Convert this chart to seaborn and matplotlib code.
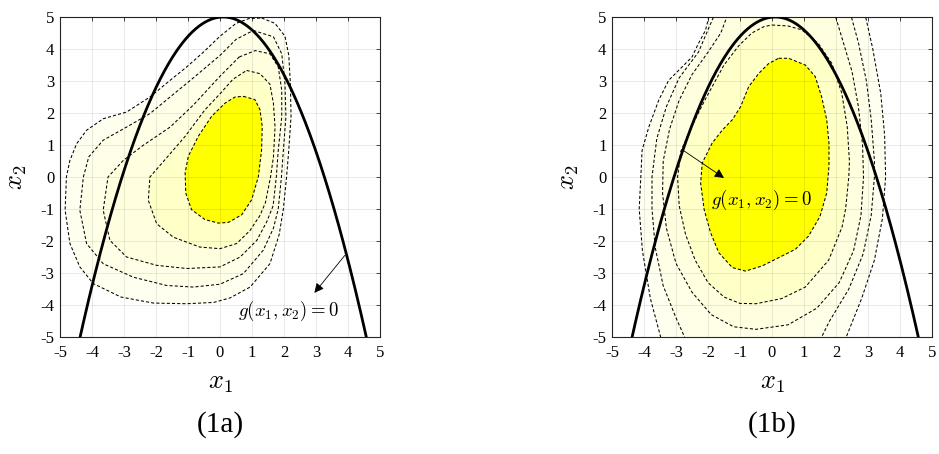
import numpy as np
import matplotlib
matplotlib.use("Agg")
import matplotlib.pyplot as plt
import seaborn as sns

# ---- data -----------------------------------------------------------------
# limit state g(x1, x2) = 0  ->  x2 = G_PEAK_Y - G_CURV * (x1 - G_PEAK_X)^2
G_PEAK_X = 0.1
G_PEAK_Y = 5.0
G_CURV = 0.5

TICKS = [-5, -4, -3, -2, -1, 0, 1, 2, 3, 4, 5]
TICK_LABELS = ["-5", "-4", "-3", "-2", "-1", "0", "1", "2", "3", "4", "5"]

# density contour outlines, panel (1a), outermost -> innermost (x1, x2)
A_L1 = [(1.3, 4.97), (1.72, 4.8), (2.03, 4.4), (2.15, 3.8), (2.2, 2.9), (2.22, 1.9),
        (2.15, 0.85), (2.08, 0.0), (1.98, -1.0), (1.85, -1.8), (1.56, -2.71), (0.94, -3.44),
        (0.31, -3.78), (-0.2, -3.92), (-1.04, -3.96), (-2.08, -3.94), (-3.1, -3.75),
        (-3.96, -3.33), (-4.38, -2.81), (-4.69, -2.08), (-4.84, -1.04), (-4.8, 0.0),
        (-4.69, 0.52), (-4.48, 1.04), (-4.17, 1.46), (-3.65, 1.82), (-2.92, 2.03),
        (-2.19, 2.5), (-1.56, 3.02), (-1.04, 3.44), (-0.52, 3.9), (0.0, 4.4), (0.5, 4.8),
        (0.9, 4.95)]
A_L2 = [(1.04, 4.58), (1.67, 4.38), (1.93, 3.85), (2.03, 2.92), (2.06, 1.88), (1.98, 0.83),
        (1.92, 0.0), (1.82, -1.0), (1.67, -1.6), (1.35, -2.29), (0.73, -3.02), (0.0, -3.35),
        (-0.83, -3.44), (-1.67, -3.39), (-2.71, -3.13), (-3.65, -2.71), (-4.17, -2.08),
        (-4.38, -1.04), (-4.27, 0.0), (-4.1, 0.63), (-3.65, 1.15), (-2.92, 1.56),
        (-2.19, 1.98), (-1.56, 2.5), (-0.83, 3.1), (0.0, 3.8), (0.5, 4.3)]
A_L3 = [(0.6, 3.75), (1.1, 3.95), (1.56, 3.85), (1.82, 3.44), (1.93, 2.71), (1.93, 1.88),
        (1.82, 0.83), (1.76, 0.0), (1.66, -0.9), (1.46, -1.4), (1.15, -1.98), (0.63, -2.5),
        (0.0, -2.81), (-1.04, -2.86), (-1.98, -2.76), (-2.92, -2.5), (-3.44, -1.98),
        (-3.65, -1.04), (-3.5, 0.0), (-3.02, 0.52), (-2.4, 0.99), (-1.56, 1.56),
        (-0.83, 2.25), (0.0, 3.15)]
A_L4 = [(0.83, 3.33), (1.25, 3.23), (1.56, 2.9), (1.67, 2.3), (1.72, 1.56), (1.67, 0.63),
        (1.58, 0.0), (1.42, -0.8), (1.25, -1.2), (0.94, -1.67), (0.52, -2.08), (0.0, -2.24),
        (-0.63, -2.19), (-1.46, -1.88), (-1.98, -1.46), (-2.24, -0.73), (-2.19, 0.0),
        (-1.72, 0.54), (-1.09, 1.27), (-0.47, 2.1), (0.0, 2.6), (0.4, 3.05)]
A_L5 = [(0.73, 2.52), (1.09, 2.42), (1.25, 2.1), (1.32, 1.58), (1.3, 0.85), (1.2, 0.02),
        (0.99, -0.71), (0.68, -1.18), (0.26, -1.42), (-0.05, -1.44), (-0.47, -1.33),
        (-0.89, -1.02), (-1.07, -0.5), (-1.09, 0.13), (-0.99, 0.65), (-0.68, 1.27),
        (-0.26, 1.9), (0.16, 2.31), (0.47, 2.5)]

# density contour outlines, panel (1b)
B_L1 = [(2.86, 5.3), (3.15, 4.0), (3.4, 2.6), (3.52, 1.3), (3.55, 0.0), (3.45, -1.3),
        (3.2, -2.6), (2.8, -3.8), (2.2, -5.3), (-3.4, -5.3), (-3.8, -3.8), (-4.05, -2.3),
        (-4.15, -1.0), (-4.1, 0.0), (-4.06, 0.83), (-3.85, 1.56), (-3.54, 2.4),
        (-3.23, 3.02), (-2.92, 3.33), (-2.5, 3.75), (-2.3, 4.17), (-2.08, 4.58), (-1.9, 5.3)]
B_L2 = [(2.4, 5.3), (2.7, 4.2), (2.95, 3.0), (3.1, 1.8), (3.2, 0.5), (3.2, 0.0), (3.1, -1.2),
        (2.85, -2.4), (2.4, -3.5), (1.8, -4.5), (1.4, -5.3), (-2.6, -5.3), (-3.0, -4.4),
        (-3.4, -3.4), (-3.65, -2.2), (-3.75, -1.0), (-3.75, 0.0), (-3.6, 1.2), (-3.3, 2.2),
        (-2.9, 3.1), (-2.3, 3.9), (-1.7, 5.3)]
B_L3 = [(1.9, 5.3), (2.2, 4.3), (2.5, 3.3), (2.7, 2.2), (2.83, 1.0), (2.86, 0.0),
        (2.78, -1.2), (2.55, -2.3), (2.1, -3.3), (1.4, -4.1), (0.5, -4.62), (-0.5, -4.76),
        (-1.2, -4.68), (-1.9, -4.3), (-2.5, -3.6), (-3.0, -2.7), (-3.3, -1.6),
        (-3.42, -0.5), (-3.4, 0.5), (-3.2, 1.5), (-2.9, 2.4), (-2.5, 3.2), (-2.0, 3.9),
        (-1.6, 4.5), (-1.3, 5.3)]
B_L4 = [(0.0, 4.75), (0.5, 4.72), (0.93, 4.6), (1.45, 4.17), (1.87, 3.55), (2.18, 2.62),
        (2.35, 1.58), (2.42, 0.5), (2.4, 0.0), (2.3, -1.0), (2.19, -1.56), (1.77, -2.6),
        (1.04, -3.44), (0.3, -3.8), (-0.5, -3.96), (-1.0, -3.95), (-1.5, -3.75),
        (-2.0, -3.3), (-2.4, -2.6), (-2.7, -1.8), (-2.9, -0.9), (-2.95, 0.0), (-2.85, 0.8),
        (-2.5, 1.6), (-2.1, 2.4), (-1.8, 2.95), (-1.5, 3.5), (-1.04, 4.1), (-0.63, 4.5),
        (-0.25, 4.7)]
B_L5 = [(0.21, 3.71), (0.52, 3.71), (1.04, 3.5), (1.35, 3.14), (1.55, 2.51), (1.71, 1.79),
        (1.78, 1.06), (1.78, 0.33), (1.71, -0.5), (1.5, -1.23), (1.14, -1.85), (0.73, -2.26),
        (0.21, -2.52), (-0.31, -2.78), (-0.83, -2.94), (-1.24, -2.83), (-1.66, -2.37),
        (-1.92, -1.74), (-2.12, -1.02), (-2.23, -0.19), (-2.18, 0.44), (-1.87, 1.06),
        (-1.55, 1.47), (-1.24, 1.79), (-0.98, 2.2), (-0.73, 2.82), (-0.41, 3.24),
        (-0.1, 3.55)]

LEVEL_COLORS = ["#fffff0", "#ffffe8", "#ffffdf", "#ffffc8", "#ffff00"]

# ---- style ------------------------------------------------------------------
sns.set_style("white")
plt.rcParams["font.family"] = ["Liberation Serif", "DejaVu Serif"]
plt.rcParams["mathtext.fontset"] = "cm"
plt.rcParams["text.color"] = "black"
plt.rcParams["xtick.color"] = "black"
plt.rcParams["ytick.color"] = "black"

fig = plt.figure(figsize=(9.39, 4.54), dpi=100)
W, H = 939.0, 454.0
ax_a = fig.add_axes([60 / W, 1 - 337 / H, 320 / W, 320 / H])
ax_b = fig.add_axes([612 / W, 1 - 337 / H, 320 / W, 320 / H])

x_curve = np.linspace(-5, 5, 400)
y_curve = G_PEAK_Y - G_CURV * (x_curve - G_PEAK_X) ** 2


def draw_panel(ax, levels, tag, arrow_tail, arrow_head, text_xy):
    for pts, col in zip(levels, LEVEL_COLORS):
        xs = [p[0] for p in pts]
        ys = [p[1] for p in pts]
        ax.fill(xs, ys, color=col, lw=0, zorder=1)
    for pts in levels:
        xs = [p[0] for p in pts] + [pts[0][0]]
        ys = [p[1] for p in pts] + [pts[0][1]]
        ax.plot(xs, ys, color="k", lw=0.75, ls=(0, (3, 2)), zorder=3,
                solid_joinstyle="round", dash_joinstyle="round")
    sns.lineplot(x=x_curve, y=y_curve, sort=False, color="k", lw=2.0, ax=ax, zorder=4)

    ax.annotate("", xy=arrow_head, xytext=arrow_tail,
                arrowprops=dict(arrowstyle="-|>", color="k", lw=0.6,
                                mutation_scale=14, shrinkA=0, shrinkB=0), zorder=5)
    ax.text(text_xy[0], text_xy[1], r"$g(x_1,x_2)=0$", fontsize=13.5,
            ha="center", va="center", zorder=5)

    ax.set_xlim(-5, 5)
    ax.set_ylim(-5, 5)
    ax.set_xticks(TICKS)
    ax.set_yticks(TICKS)
    ax.set_xticklabels(TICK_LABELS, fontsize=12)
    ax.set_yticklabels(TICK_LABELS, fontsize=12)
    ax.set_axisbelow(False)
    ax.grid(True, color="k", alpha=0.1, lw=0.6, zorder=2)
    ax.tick_params(direction="in", length=3, width=0.6, color="#262626",
                   top=True, right=True, labeltop=False, labelright=False)
    ax.tick_params(axis="x", pad=6)
    ax.tick_params(axis="y", pad=4)
    for s in ax.spines.values():
        s.set_color("#262626")
        s.set_linewidth(0.8)
        s.set_visible(True)
    ax.set_xlabel("")
    ax.set_ylabel("")
    ax.text(0.5, -0.148, r"$x_1$", transform=ax.transAxes, fontsize=19,
            ha="center", va="center")
    ax.text(-0.13, 0.5, r"$x_2$", transform=ax.transAxes, fontsize=19,
            ha="center", va="center", rotation=90)
    x0 = ax.get_position().x0 + ax.get_position().width / 2
    fig.text(x0, 1 - 425 / H, tag, fontsize=21, ha="center", va="center")


draw_panel(ax_a, [A_L1, A_L2, A_L3, A_L4, A_L5], "(1a)",
           arrow_tail=(3.9, -2.45), arrow_head=(2.95, -3.62), text_xy=(2.15, -4.2))
draw_panel(ax_b, [B_L1, B_L2, B_L3, B_L4, B_L5], "(1b)",
           arrow_tail=(-2.8, 0.85), arrow_head=(-1.5, -0.03), text_xy=(-0.34, -0.72))

fig.savefig("out.png", dpi=100)
